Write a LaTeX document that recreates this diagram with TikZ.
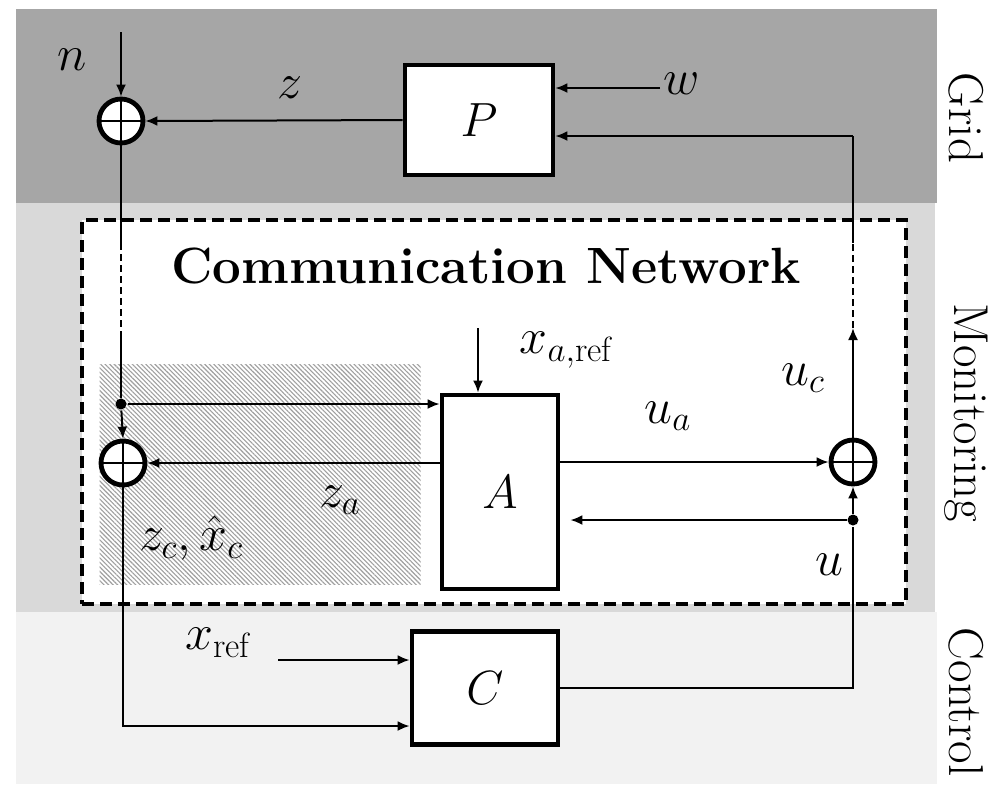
\RequirePackage{fix-cm}
\documentclass[tikz,border=0pt]{standalone}
\usepackage{fontspec}
\usepackage{tikz}
\usetikzlibrary{arrows.meta, patterns.meta, calc}
\definecolor{gridbg}{HTML}{A6A6A6}
\definecolor{monbg}{HTML}{D9D9D9}
\definecolor{ctrlbg}{HTML}{F2F2F2}

\begin{document}
\begin{tikzpicture}[
   x=0.5pt, y=-0.5pt,
   font=\fontsize{24}{28}\selectfont,
   >={Latex[length=6pt, width=5pt]},
   line width=1pt,
   blk/.style={draw, line width=2.4pt, fill=white, inner sep=0pt},
   sumpt/.style={circle, draw, line width=2.4pt, fill=white, minimum size=22pt,
                 inner sep=0pt,
                 path picture={\draw[line width=1pt]
                    (path picture bounding box.north) -- (path picture bounding box.south)
                    (path picture bounding box.west) -- (path picture bounding box.east);}},
   dot/.style={circle, fill=black, minimum size=5.5pt, inner sep=0pt},
   netline/.style={line width=1pt, dash pattern=on 3.5pt off 2pt},
   lbl/.style={inner sep=1pt, font=\fontsize{25}{28}\selectfont},
   side/.style={rotate=-90, font=\fontsize{24.5}{28}\selectfont},
]
\useasboundingbox (0,0) rectangle (1007,784);

% ---- layers ----
\fill[gridbg] (16,9) rectangle (937,203);
\fill[monbg]  (16,203) rectangle (935,612);
\fill[ctrlbg] (16,612) rectangle (937,784);
\node[side] (tgrid) at (966,118) {Grid};
\node[side] (tmon)  at (966,413) {Monitoring};
\node[side] (tctrl) at (966,702) {Control};

% ---- communication network ----
\node[draw, fill=white, line width=2pt, dash pattern=on 6pt off 3pt,
      minimum width=412pt, minimum height=192pt] (net) at (494,412) {};
\node[font=\fontsize{25.5}{28}\selectfont\bfseries] (ttl) at (486,266) {Communication Network};
\node[minimum width=160.5pt, minimum height=110pt, inner sep=0pt,
      pattern={Lines[angle=-45, distance=1.6pt, line width=0.55pt]},
      pattern color=gray!75] (hatch) at (260,474) {};

% ---- blocks ----
\node[blk, minimum width=74pt, minimum height=55pt] (P) at (479,120) {$P$};
\node[blk, minimum width=58pt, minimum height=97pt] (A) at (500,492) {$A$};
\node[blk, minimum width=73pt, minimum height=56.5pt] (C) at (485,688) {$C$};
\node[sumpt] (s1) at (121,121) {};
\node[sumpt] (s2) at (123,463) {};
\node[sumpt] (s3) at (853,462) {};
\node[dot] (d1) at (121,404) {};
\node[dot] (d2) at (853,520) {};

% ---- free ends ----
\coordinate (nin) at (121,32);
\coordinate (win) at (660,88);
\coordinate (rtop) at (853,136);
\coordinate (rnet) at (853,243);
\coordinate (uctip) at (853,328);
\coordinate (lnet) at (121,243);
\coordinate (lnet2) at (121,335);
\coordinate (xaref) at (478,328);
\coordinate (xrefin) at (278,660);
\coordinate (cin) at ([yshift=-19pt]C.west);

% ---- arrows ----
\draw[->] (nin) -- (s1.north);
\draw[->] (P.west) -- (s1.east);
\draw[->] (win) -- (P.east |- win);
\draw[->] (rtop) -- (P.east |- rtop);
\draw (s1.south) -- (lnet);
\draw[netline] (lnet) -- (lnet2);
\draw (lnet2) -- (d1);
\draw[->] (d1) -- (A.west |- d1);
\draw[->] (d1) -- (s2.north);
\draw[->] (A.west |- s2) -- (s2.east);
\draw[->] (xaref) -- (xaref |- A.north);
\draw[->] (A.east |- s3) -- (s3.west);
\draw[->] (d2) -- (s3.south);
\draw[->, shorten >=5pt] (d2) -- (A.east |- d2);
\draw[->] (s3.north) -- (uctip);
\draw[netline] (uctip) -- (rnet);
\draw (rnet) -- (rtop);
\draw (C.east) -| (d2);
\draw[->] (xrefin) -- (C.west |- xrefin);
\draw[->] (s2.south) |- (cin);

% ---- labels ----
\node[lbl] (ln)   at (72,60)   {$n$};
\node[lbl] (lz)   at (290,88)  {$z$};
\node[lbl] (lw)   at (682,84)  {$w$};
\node[lbl] (lxa)  at (566,350) {$x_{a,\mathrm{ref}}$};
\node[lbl] (luc)  at (803,378) {$u_c$};
\node[lbl] (lua)  at (668,416) {$u_a$};
\node[lbl] (lza)  at (340,500) {$z_a$};
\node[lbl] (lzc)  at (191,538) {$z_c,\hat{x}_c$};
\node[lbl] (lu)   at (829,565) {$u$};
\node[lbl] (lxr)  at (218,643) {$x_{\mathrm{ref}}$};
\end{tikzpicture}
\end{document}
